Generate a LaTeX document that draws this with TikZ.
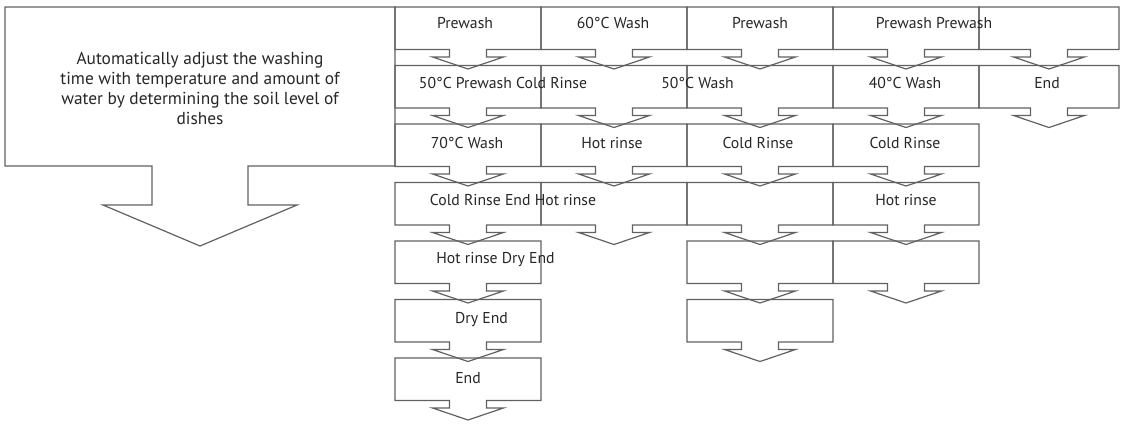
\documentclass[tikz,border=0pt]{standalone}
\usepackage{fontspec}
\setmainfont{PT Sans}
\newcommand\dcall[3]{% left, top, right
  \pgfmathsetmacro\cx{(#1+#3)/2}
  \draw[co] (#1,#2) -- (#3,#2) -- (#3,#2+42.5) -- (\cx+18.5,#2+42.5) -- (\cx+18.5,#2+50)
    -- (\cx+35.5,#2+50) -- (\cx,#2+62) -- (\cx-35.5,#2+50) -- (\cx-18.5,#2+50)
    -- (\cx-18.5,#2+42.5) -- (#1,#2+42.5) -- cycle;}
\begin{document}
\begin{tikzpicture}[x=0.75pt,y=-0.75pt,
  co/.style={draw=black!62, line width=0.9pt, line join=miter},
  lbl/.style={anchor=base, inner sep=0pt, font=\fontsize{11.8}{15}\selectfont, text=black!85}]
\useasboundingbox (0,0) rectangle (1123,425);
% big callout
\draw[co] (5,7) -- (395,7) -- (395,166) -- (248,166) -- (248,205) -- (297,205) -- (200,246)
  -- (103,205) -- (152,205) -- (152,166) -- (5,166) -- cycle;
\node[lbl, align=center, anchor=base, font=\fontsize{13}{15}\selectfont] (intro) at (200,124) {Automatically adjust the washing\\time with temperature and amount of\\water by determining the soil level of\\dishes};
% column A
\foreach \t in {7,65.5,124,182.5,241,299.5,358} {\dcall{395}{\t}{541}}
% column B
\foreach \t in {7,65.5,124,182.5} {\dcall{541}{\t}{687}}
% column C
\foreach \t in {7,65.5,124,182.5,241,299.5} {\dcall{687}{\t}{833}}
% column D
\foreach \t in {7,65.5,124,182.5,241} {\dcall{833}{\t}{979}}
% column E
\foreach \t in {7,65.5} {\dcall{979}{\t}{1119}}
% labels row 1
\node[lbl] (a1) at (465,28) {Prewash};
\node[lbl] (b1) at (613,28) {60°C Wash};
\node[lbl] (c1) at (760,28) {Prewash};
\node[lbl] (d1) at (934,28) {Prewash Prewash};
% row 2
\node[lbl] (a2) at (503,88) {50°C Prewash Cold Rinse};
\node[lbl] (c2) at (697.5,88) {50°C Wash};
\node[lbl] (d2) at (905,88) {40°C Wash};
\node[lbl] (e2) at (1047,88) {End};
% row 3
\node[lbl] (a3) at (467,148) {70°C Wash};
\node[lbl] (b3) at (612,148) {Hot rinse};
\node[lbl] (c3) at (758,148) {Cold Rinse};
\node[lbl] (d3) at (905,148) {Cold Rinse};
% row 4
\node[lbl] (a4) at (513,205) {Cold Rinse End Hot rinse};
\node[lbl] (d4) at (906,205) {Hot rinse};
% rows 5-7
\node[lbl] (a5) at (495.5,263) {Hot rinse Dry End};
\node[lbl] (a6) at (481.5,323) {Dry End};
\node[lbl] (a7) at (468,383) {End};
\end{tikzpicture}
\end{document}
